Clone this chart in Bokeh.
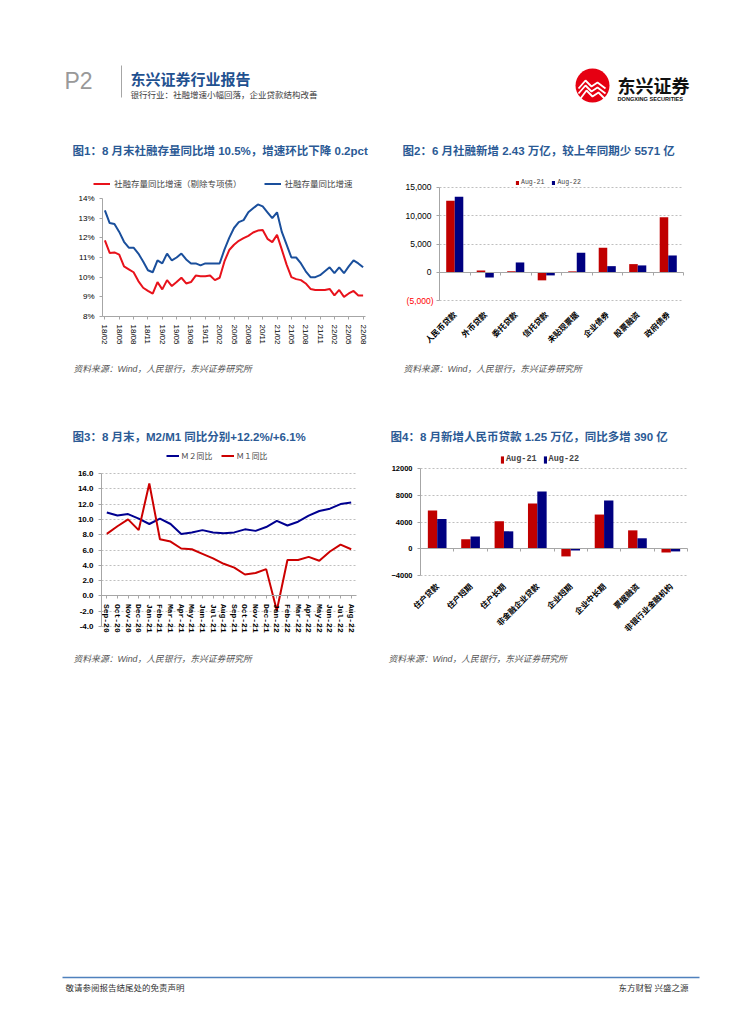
import math
from bokeh.plotting import figure
from bokeh.layouts import column, row
from bokeh.models import (Range1d, Legend, LegendItem, Label, LinearAxis, Grid,
                          FixedTicker, PrintfTickFormatter, NumeralTickFormatter,
                          ColumnDataSource)
from bokeh.core.properties import value
from bokeh.embed import file_html
from bokeh.resources import INLINE

# ---------------- data ----------------
# Chart 1: monthly 18/02 .. 22/08
ticks1 = ["18/02", "18/05", "18/08", "18/11", "19/02", "19/05", "19/08", "19/11",
          "20/02", "20/05", "20/08", "20/11", "21/02", "21/05", "21/08", "21/11",
          "22/02", "22/05", "22/08"]
sf_ex_special = [11.87, 11.23, 11.26, 11.15, 10.55, 10.4, 10.25, 9.8, 9.46, 9.3,
                 9.16, 9.75, 9.38, 9.85, 9.55, 9.75, 9.97, 9.68, 9.75, 10.08,
                 10.05, 10.05, 10.08, 9.85, 9.97, 10.8, 11.38, 11.65, 11.85, 11.98,
                 12.1, 12.27, 12.37, 12.4, 11.95, 11.78, 12.15, 11.4, 10.64, 10.0,
                 9.9, 9.85, 9.68, 9.4, 9.35, 9.35, 9.35, 9.4, 9.07, 9.35,
                 9.0, 9.17, 9.3, 9.07, 9.07]
sf_total = [13.4, 12.75, 12.7, 12.3, 11.8, 11.5, 11.5, 11.2, 10.8, 10.35,
            10.25, 10.85, 10.7, 11.2, 10.85, 11.0, 11.2, 10.9, 10.7, 10.7,
            10.6, 10.7, 10.7, 10.7, 10.7, 11.4, 12.0, 12.5, 12.8, 12.9,
            13.3, 13.5, 13.7, 13.6, 13.3, 13.0, 13.3, 12.3, 11.65, 11.0,
            11.0, 10.7, 10.3, 10.0, 10.0, 10.1, 10.3, 10.5, 10.2, 10.5,
            10.2, 10.55, 10.85, 10.7, 10.5]

# Chart 2
cats2 = ["人民币贷款", "外币贷款", "委托贷款", "信托贷款", "未贴现票据", "企业债券", "股票融资", "政府债券"]
tsf_aug21 = [12600, 350, 200, -1400, 180, 4330, 1460, 9700]
tsf_aug22 = [13300, -880, 1750, -530, 3450, 1100, 1230, 2980]

# Chart 3
months3 = ["Sep-20", "Oct-20", "Nov-20", "Dec-20", "Jan-21", "Feb-21", "Mar-21", "Apr-21",
           "May-21", "Jun-21", "Jul-21", "Aug-21", "Sep-21", "Oct-21", "Nov-21", "Dec-21",
           "Jan-22", "Feb-22", "Mar-22", "Apr-22", "May-22", "Jun-22", "Jul-22", "Aug-22"]
m2_yoy = [10.9, 10.5, 10.7, 10.1, 9.4, 10.1, 9.4, 8.1, 8.3, 8.6, 8.3, 8.2,
          8.3, 8.7, 8.5, 9.0, 9.8, 9.2, 9.7, 10.5, 11.1, 11.4, 12.0, 12.2]
m1_yoy = [8.1, 9.1, 10.0, 8.6, 14.7, 7.4, 7.1, 6.2, 6.1, 5.5, 4.9, 4.2,
          3.7, 2.8, 3.0, 3.5, -1.9, 4.7, 4.7, 5.1, 4.6, 5.8, 6.7, 6.1]

# Chart 4
cats4 = ["住户贷款", "住户短期", "住户长期", "非金融企业贷款", "企业短期", "企业中长期", "票据融资", "非银行业金融机构"]
loan_aug21 = [5730, 1430, 4150, 6800, -1140, 5140, 2770, -550]
loan_aug22 = [4490, 1830, 2620, 8600, -250, 7260, 1580, -390]

CJK = "Noto Sans CJK SC"
SANS = "Liberation Sans"
MONO = "Liberation Mono"
MIX = "Liberation Sans, Noto Sans CJK SC"
TITLE_C = "#2B5A95"
SRC_TXT = "资料来源：Wind，人民银行，东兴证券研究所"
AXC = "#A6A6A6"
GRIDC = "#BFBFBF"


class Panel:
    """A figure whose frame is the whole canvas, placed at page rect (X0, Y0, W, H)."""

    def __init__(self, X0, Y0, W, H, xmap, ymap):
        self.X0, self.Y0, self.W, self.H = X0, Y0, W, H

        def rng(m, lo, hi):
            v0, p0, v1, p1 = m
            k = (v1 - v0) / (p1 - p0)
            return v0 + (lo - p0) * k, v0 + (hi - p0) * k

        xs, xe = rng(xmap, X0, X0 + W)
        ye, ys = rng(ymap, Y0, Y0 + H)
        self.p = figure(width=W, height=H, x_range=Range1d(xs, xe), y_range=Range1d(ys, ye),
                        x_axis_location=None, y_axis_location=None, min_border=0,
                        output_backend="svg", toolbar_location=None, tools="")
        self.p.grid.visible = False
        self.p.outline_line_color = None

    def sx(self, px):
        return px - self.X0

    def sy(self, py):
        return self.Y0 + self.H - py

    def label(self, px, py, text, size, color="#000000", font=CJK, style="normal",
              align="left", baseline="middle"):
        self.p.add_layout(Label(x=self.sx(px), y=self.sy(py), x_units="screen", y_units="screen",
                                text=text, text_font=font, text_font_size=f"{size}px",
                                text_color=color, text_font_style=style,
                                text_align=align, text_baseline=baseline))

    def axis(self, side, loc, bounds, ticks, overrides=None, formatter=None, font=SANS,
             size=8, bold=False, orient="horizontal", line=True, tick=True, labels=True,
             standoff=5):
        ax = LinearAxis(fixed_location=loc, bounds=bounds, ticker=FixedTicker(ticks=ticks))
        if formatter is not None:
            ax.formatter = formatter
        if overrides:
            ax.major_label_overrides = overrides
        ax.axis_line_color = AXC if line else None
        ax.major_tick_line_color = AXC if tick else None
        ax.minor_tick_line_color = None
        ax.major_tick_in = 0
        ax.major_tick_out = 3
        ax.major_label_text_font = font
        ax.major_label_text_font_size = f"{size}px"
        ax.major_label_text_font_style = "bold" if bold else "normal"
        ax.major_label_text_color = "#000000" if labels else None
        ax.major_label_orientation = orient
        ax.major_label_standoff = standoff
        self.p.add_layout(ax, side)
        return ax

    def grid(self, ticks, cross):
        g = Grid(dimension=1, ticker=FixedTicker(ticks=ticks), cross_bounds=cross,
                 grid_line_color=GRIDC, grid_line_dash="2 2", grid_line_width=1)
        self.p.add_layout(g)

    def legend(self, items, left, bottom, font, size, gw, gh, standoff, spacing, style="normal"):
        lg = Legend(items=items, location=(self.sx(left), self.sy(bottom)),
                    orientation="horizontal",
                    label_text_font=font, label_text_font_size=f"{size}px",
                    label_text_font_style=style, label_text_baseline="middle",
                    glyph_width=gw, glyph_height=gh, label_standoff=standoff,
                    spacing=spacing, padding=0, margin=0, label_height=gh,
                    border_line_color=None, background_fill_alpha=0)
        self.p.add_layout(lg)


# ---------------- header ----------------
hdr = figure(width=747, height=120, x_range=Range1d(0, 747), y_range=Range1d(120, 0),
             x_axis_location=None, y_axis_location=None, min_border=0,
             output_backend="svg", toolbar_location=None, tools="")
hdr.grid.visible = False
hdr.outline_line_color = None
hdr.text(x=[64], y=[80], text=["P2"], text_font=value(SANS), text_font_size="23px",
         text_color="#999999", text_baseline="middle")
hdr.segment(x0=[121], y0=[65], x1=[121], y1=[97], line_color="#A6A6A6", line_width=1)
hdr.text(x=[130], y=[78], text=["东兴证券行业报告"], text_font=value(CJK), text_font_size="15px",
         text_font_style="bold", text_color="#1F5190", text_baseline="middle")
hdr.text(x=[130], y=[93], text=["银行行业：社融增速小幅回落，企业贷款结构改善"], text_font=value(CJK),
         text_font_size="8.5px", text_color="#404040", text_baseline="middle")
hdr.circle(x=[592], y=[85], radius=17, fill_color="#E60012", line_color=None)
hdr.multi_line(xs=[[578, 585, 591, 597, 605], [578, 585, 591, 597, 605], [580, 586, 592, 598, 604]],
               ys=[[88, 80, 86, 82, 88], [93, 85, 91, 87, 93], [98, 90, 96, 92, 98]],
               line_color="white", line_width=1.8)
hdr.text(x=[617], y=[84], text=["东兴证券"], text_font=value(CJK), text_font_size="18px",
         text_font_style="bold", text_color="#111111", text_baseline="middle")
hdr.text(x=[617], y=[98], text=["DONGXING SECURITIES"], text_font=value(SANS), text_font_size="5.6px",
         text_font_style="bold", text_color="#111111", text_baseline="middle")

# ---------------- chart 1 ----------------
c1 = Panel(0, 120, 378, 285, (-0.5, 102, len(sf_total) - 0.5, 365), (8, 316, 14, 198))
xs1 = list(range(len(sf_total)))
r1a = c1.p.line(xs1, sf_ex_special, line_color="#E8121B", line_width=2)
r1b = c1.p.line(xs1, sf_total, line_color="#1A4F9C", line_width=2)
c1.axis("left", -0.5, (8, 14), [8, 9, 10, 11, 12, 13, 14],
        formatter=PrintfTickFormatter(format="%d%%"), size=8)
tpos1 = [3 * i for i in range(len(ticks1))]
c1.axis("below", 8, (-0.5, len(sf_total) - 0.5), tpos1,
        overrides={t: s for t, s in zip(tpos1, ticks1)}, size=8, orient="vertical")
c1.legend([LegendItem(label="社融存量同比增速（剔除专项债）", renderers=[r1a]),
           LegendItem(label="社融存量同比增速", renderers=[r1b])],
          93, 189, CJK, 8.5, 17, 9, 4, 22)
c1.label(72, 150, "图1：8 月末社融存量同比增 10.5%，增速环比下降 0.2pct", 11.5,
         color=TITLE_C, style="bold", font=MIX)
c1.label(73, 368, SRC_TXT, 8.8, color="#555555", style="italic", font=MIX)

# ---------------- chart 2 ----------------
n2 = len(cats2)
c2 = Panel(378, 120, 369, 285, (-0.5, 439, n2 - 0.5, 683), (-5000, 300.3, 15000, 186.7))
idx2 = list(range(n2))
src2 = ColumnDataSource(dict(i21=[i - 0.14 for i in idx2], i22=[i + 0.14 for i in idx2],
                             a21=tsf_aug21, a22=tsf_aug22))
c2.grid([-5000, 5000, 10000, 15000], (-0.5, n2 - 0.5))
r2a = c2.p.vbar(x="i21", top="a21", bottom=0, width=0.28, source=src2,
                fill_color="#C00000", line_color=None)
r2b = c2.p.vbar(x="i22", top="a22", bottom=0, width=0.28, source=src2,
                fill_color="#000080", line_color=None)
c2.axis("left", -0.5, (-5000, 15000), [-5000, 0, 5000, 10000, 15000],
        formatter=NumeralTickFormatter(format="0,0"), overrides={-5000: ""}, size=8.5)
c2.axis("below", 0, (-0.5, n2 - 0.5), [i - 0.5 for i in range(n2 + 1)], labels=False)
c2.axis("below", -5000, (-0.5, n2 - 0.5), idx2,
        overrides={i: s for i, s in zip(idx2, cats2)}, font=CJK, size=8, bold=True,
        orient=math.pi / 4, line=False, tick=False, standoff=9)
c2.legend([LegendItem(label="Aug-21", renderers=[r2a]),
           LegendItem(label="Aug-22", renderers=[r2b])],
          515, 186, MONO, 6.5, 4, 5, 2, 7)
c2.label(433, 300.5, "(5,000)", 8.5, color="#FF0000", font=SANS, align="right")
c2.label(402, 150, "图2：6 月社融新增 2.43 万亿，较上年同期少 5571 亿", 11.5,
         color=TITLE_C, style="bold", font=MIX)
c2.label(403, 368, SRC_TXT, 8.8, color="#555555", style="italic", font=MIX)

# ---------------- chart 3 ----------------
n3 = len(months3)
c3 = Panel(0, 405, 378, 285, (-0.5, 101, n3 - 0.5, 356), (-4, 626, 16, 473))
idx3 = list(range(n3))
c3.grid([-4, -2, 2, 4, 6, 8, 10, 12, 14, 16], (-0.5, n3 - 0.5))
r3a = c3.p.line(idx3, m2_yoy, line_color="#000090", line_width=2)
r3b = c3.p.line(idx3, m1_yoy, line_color="#CC0000", line_width=2)
c3.axis("left", -0.5, (-4, 16), [-4, -2, 0, 2, 4, 6, 8, 10, 12, 14, 16],
        formatter=PrintfTickFormatter(format="%.1f"), size=8, bold=True)
c3.axis("below", 0, (-0.5, n3 - 0.5), idx3,
        overrides={i: s for i, s in zip(idx3, months3)}, font=MONO, size=8, bold=True,
        orient="vertical")
c3.legend([LegendItem(label="Ｍ２同比", renderers=[r3a]),
           LegendItem(label="Ｍ１同比", renderers=[r3b])],
          166, 460.5, CJK, 7.8, 13, 9, 2, 9)
c3.label(72, 436, "图3：8 月末，M2/M1 同比分别+12.2%/+6.1%", 11.5, color=TITLE_C,
         style="bold", font=MIX)
c3.label(73, 658, SRC_TXT, 8.8, color="#555555", style="italic", font=MIX)

# ---------------- chart 4 ----------------
n4 = len(cats4)
c4 = Panel(378, 405, 369, 285, (-0.5, 420, n4 - 0.5, 687), (-4000, 575, 12000, 468.3))
idx4 = list(range(n4))
src4 = ColumnDataSource(dict(i21=[i - 0.14 for i in idx4], i22=[i + 0.14 for i in idx4],
                             a21=loan_aug21, a22=loan_aug22))
c4.grid([-4000, 4000, 8000, 12000], (-0.5, n4 - 0.5))
r4a = c4.p.vbar(x="i21", top="a21", bottom=0, width=0.28, source=src4,
                fill_color="#C00000", line_color=None)
r4b = c4.p.vbar(x="i22", top="a22", bottom=0, width=0.28, source=src4,
                fill_color="#000080", line_color=None)
c4.axis("left", -0.5, (-4000, 12000), [-4000, 0, 4000, 8000, 12000], size=7.5, bold=True)
c4.axis("below", 0, (-0.5, n4 - 0.5), [i - 0.5 for i in range(n4 + 1)], labels=False)
c4.axis("below", -4000, (-0.5, n4 - 0.5), idx4,
        overrides={i: s for i, s in zip(idx4, cats4)}, font=CJK, size=8, bold=True,
        orient=math.pi / 4, line=False, tick=False, standoff=6)
c4.legend([LegendItem(label="Aug-21", renderers=[r4a]),
           LegendItem(label="Aug-22", renderers=[r4b])],
          500, 464, MONO, 8.5, 4, 9, 2, 6, style="bold")
c4.label(390, 436, "图4：8 月新增人民币贷款 1.25 万亿，同比多增 390 亿", 11.5,
         color=TITLE_C, style="bold", font=MIX)
c4.label(388, 658, SRC_TXT, 8.8, color="#555555", style="italic", font=MIX)

# ---------------- footer ----------------
ftr = figure(width=747, height=320, x_range=Range1d(0, 747), y_range=Range1d(1010, 690),
             x_axis_location=None, y_axis_location=None, min_border=0,
             output_backend="svg", toolbar_location=None, tools="")
ftr.grid.visible = False
ftr.outline_line_color = None
ftr.segment(x0=[62], y0=[977], x1=[699], y1=[977], line_color="#4F81BD", line_width=1.5)
ftr.text(x=[65], y=[986], text=["敬请参阅报告结尾处的免责声明"], text_font=value(CJK),
         text_font_size="8.5px", text_color="#333333", text_baseline="middle")
ftr.text(x=[688], y=[986], text=["东方财智 兴盛之源"], text_font=value(CJK),
         text_font_size="8.5px", text_color="#333333", text_baseline="middle", text_align="right")

page = column(hdr, row(c1.p, c2.p), row(c3.p, c4.p), ftr)
open("out.html", "w").write(file_html(page, INLINE))
